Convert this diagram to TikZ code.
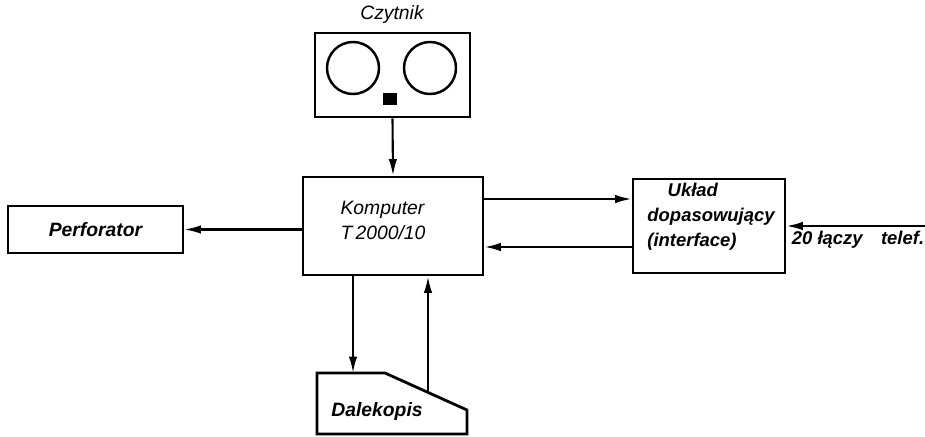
\documentclass[tikz,border=0pt]{standalone}
\usepackage{fontspec}
\setmainfont{Liberation Sans}
\usetikzlibrary{positioning,arrows.meta}
\tikzset{
  blok/.style={rectangle, draw=black, line width=1.6pt, fill=white, inner sep=0pt},
  strzalka/.style={-{Latex[length=3.3mm,width=1.7mm]}, line width=1.2pt},
  etyk/.style={font=\fontsize{10.5}{14.2}\selectfont\bfseries\itshape, inner sep=0pt},
  etykc/.style={font=\fontsize{11}{14.2}\selectfont\itshape, inner sep=0pt},
}

\begin{document}
\begin{tikzpicture}[x=0.02cm, y=-0.02cm]
  \useasboundingbox (0,0) rectangle (925,436);
  % czytnik tasmy
  \node[blok, minimum width=3.1cm, minimum height=1.68cm] (czytnik) at (392.5,75) {};
  \node[etykc] (czytniklab) at (392,15) {Czytnik};
  \draw[line width=1.4pt] (353,68) circle[radius=0.52cm];
  \draw[line width=1.4pt] (430,68) circle[radius=0.52cm];
  \node[fill=black, minimum width=0.28cm, minimum height=0.24cm, inner sep=0pt] (okno) at (390,99) {};
  % komputer
  \node[blok, minimum width=3.6cm, minimum height=1.96cm] (komputer) at (393,226) {};
  \node[etykc, align=left] (komputerlab) at (383,220) {Komputer\\T\,2000/10};
  % uklad dopasowujacy
  \node[blok, minimum width=3.04cm, minimum height=1.88cm] (interface) at (709,226) {};
  \node[etyk, align=left] (interfacelab) at (711,217) {\hspace{1.1em}Układ\\dopasowujący\\(interface)};
  % perforator
  \node[blok, minimum width=3.5cm, minimum height=0.94cm, font=\fontsize{11}{13}\selectfont\bfseries\itshape] (perforator) at (95.5,229.5) {Perforator};
  % dalekopis
  \draw[line width=1.6pt] (317,373) -- (385,373) -- (467,410) -- (467,434) -- (317,434) -- cycle;
  \node[etyk, font=\fontsize{11}{13}\selectfont\bfseries\itshape] (dalekopis) at (377,411) {Dalekopis};
  \coordinate (dgora) at (353,373);
  \coordinate (dskos) at (428,392);
  % linie
  \coordinate (lacza) at (925,226);
  \draw[strzalka] (czytnik.south) -- (komputer.north);
  \draw[strzalka] (komputer.west |- perforator.east) -- (perforator.east);
  \draw[strzalka] ([yshift=0.54cm]komputer.east) -- ([yshift=0.54cm]interface.west);
  \draw[strzalka] ([yshift=-0.42cm]interface.west) -- ([yshift=-0.42cm]komputer.east);
  \draw[strzalka] (lacza) -- (interface.east);
  \node[etyk] (laczalab) at (858,240) {20 łączy\quad telef.};
  \draw[strzalka] (komputer.south -| dgora) -- (dgora);
  \draw[strzalka] (dskos) -- (komputer.south -| dskos);
\end{tikzpicture}
\end{document}
